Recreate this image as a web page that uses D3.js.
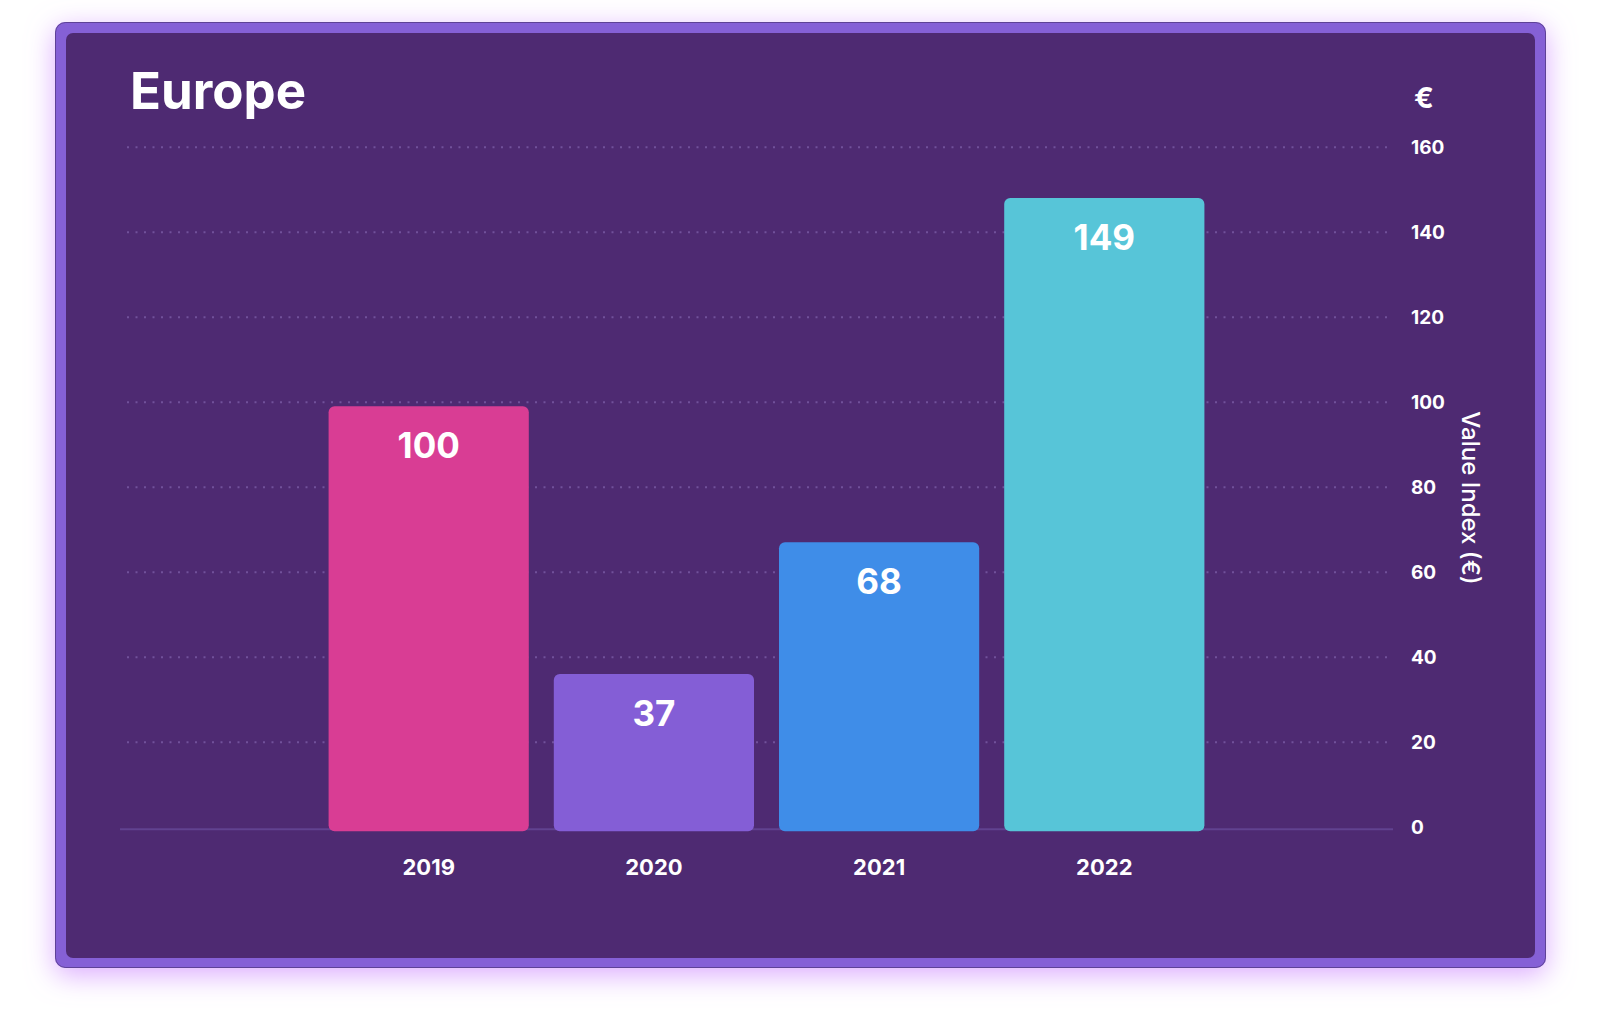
<!DOCTYPE html>
<html>
<head>
<meta charset="utf-8">
<script src="https://cdn.jsdelivr.net/npm/d3@7"></script>
<style>
  html, body { margin: 0; padding: 0; background: #ffffff; }
  svg { display: block; font-family: Inter, "Noto Sans", sans-serif; }
</style>
</head>
<body>
<svg id="chart" width="1600" height="1018"></svg>
<script>
// ---- data ----
const title = "Europe";
const years = ["2019", "2020", "2021", "2022"];
const values = [100, 37, 68, 149];
const barColors = ["#d93d94", "#845ed6", "#3f8de8", "#57c5d8"];
const yTicks = [0, 20, 40, 60, 80, 100, 120, 140, 160];
const yAxisTitle = "Value Index (€)";
const currencySymbol = "€";

// ---- layout ----
const svg = d3.select("#chart");
const defs = svg.append("defs");
const glow = defs.append("filter").attr("id", "glow")
  .attr("x", "-10%").attr("y", "-10%").attr("width", "120%").attr("height", "125%");
glow.append("feDropShadow").attr("dx", 0).attr("dy", 7).attr("stdDeviation", 14)
  .attr("flood-color", "#d59cff").attr("flood-opacity", 0.85);

// card
svg.append("rect").attr("x", 55).attr("y", 22).attr("width", 1491).attr("height", 946)
  .attr("rx", 10).attr("fill", "#8560d6").attr("filter", "url(#glow)");
svg.append("rect").attr("x", 55.5).attr("y", 22.5).attr("width", 1490).attr("height", 945)
  .attr("rx", 10).attr("fill", "none").attr("stroke", "#3e2a63").attr("stroke-opacity", 0.55);
svg.append("rect").attr("x", 66).attr("y", 33).attr("width", 1469).attr("height", 925)
  .attr("rx", 7).attr("fill", "#4e2a72");

// scales
const y = d3.scaleLinear().domain([0, 160]).range([826.7, 146.7]);
const x = d3.scaleBand().domain(years).range([303.6, 1229.4]).padding(0.111);

// gridlines
const grid = svg.append("g").attr("transform", "translate(127,0)")
  .call(d3.axisRight(y).tickValues(yTicks.filter(d => d !== 0)).tickSize(1266).tickFormat(""));
grid.select(".domain").remove();
grid.selectAll(".tick line").attr("stroke", "#71519a").attr("stroke-width", 2)
  .attr("stroke-dasharray", "2,6.5").attr("stroke-linecap", "butt");

// baseline
svg.append("line").attr("x1", 120).attr("x2", 1393)
  .attr("y1", y(0) + 2.5).attr("y2", y(0) + 2.5)
  .attr("stroke", "#614290").attr("stroke-width", 2);

// y axis labels
const yAxis = svg.append("g").attr("transform", "translate(1411,0)")
  .call(d3.axisRight(y).tickValues(yTicks).tickSize(0).tickPadding(0));
yAxis.select(".domain").remove();
yAxis.selectAll("text").attr("fill", "#ffffff").attr("font-size", 19).attr("font-weight", 700)
  .attr("font-family", "Inter, sans-serif").attr("text-anchor", "start").attr("dy", "0.35em");

// currency symbol
svg.append("text").attr("x", 1424).attr("y", 98).attr("dy", "0.35em")
  .attr("text-anchor", "middle").attr("fill", "#fff").attr("font-size", 29).attr("font-weight", 700)
  .text(currencySymbol);

// y axis title
svg.append("text").attr("transform", "translate(1462,498) rotate(90)")
  .attr("text-anchor", "middle").attr("fill", "#fff").attr("font-size", 24).attr("font-weight", 500)
  .text(yAxisTitle);

// bars
const data = years.map((yr, i) => ({ year: yr, value: values[i], color: barColors[i] }));
const barShift = 4.5;
svg.append("g").selectAll("rect").data(data).join("rect")
  .attr("x", d => x(d.year)).attr("width", x.bandwidth())
  .attr("y", d => y(d.value) + barShift).attr("height", d => y(0) - y(d.value))
  .attr("rx", 6).attr("fill", d => d.color);

// value labels
svg.append("g").selectAll("text").data(data).join("text")
  .attr("x", d => x(d.year) + x.bandwidth() / 2)
  .attr("y", d => y(d.value) + barShift + 39).attr("dy", "0.36em")
  .attr("text-anchor", "middle").attr("fill", "#fff")
  .attr("font-size", 35).attr("font-weight", 700)
  .text(d => d.value);

// x axis labels
const xAxis = svg.append("g").attr("transform", "translate(0,867)")
  .call(d3.axisBottom(x).tickSize(0).tickPadding(0));
xAxis.select(".domain").remove();
xAxis.selectAll("text").attr("fill", "#fff").attr("font-size", 22).attr("font-weight", 700)
  .attr("font-family", "Inter, sans-serif").attr("dy", "0.36em");

// title
svg.append("text").attr("x", 130).attr("y", 109).attr("fill", "#fff")
  .attr("font-size", 51).attr("font-weight", 700).text(title);
</script>
</body>
</html>
